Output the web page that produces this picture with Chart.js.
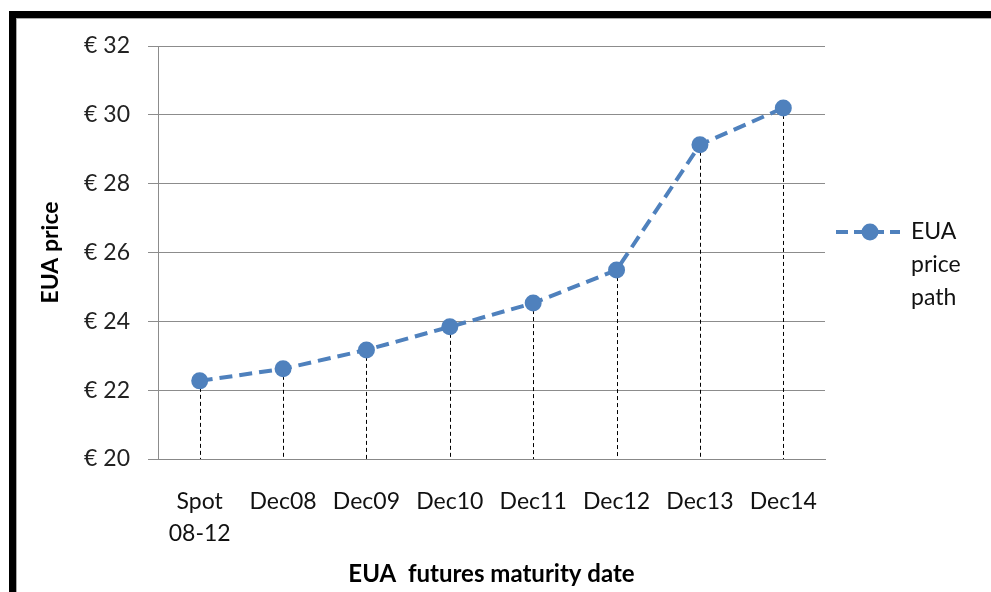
<!DOCTYPE html>
<html>
<head>
<meta charset="utf-8">
<script src="https://cdn.jsdelivr.net/npm/chart.js@4"></script>
<style>
  html, body { margin: 0; padding: 0; background: #fff; }
  #wrap { position: relative; width: 991px; height: 592px; overflow: hidden; }
  #frame {
    position: absolute; left: 9px; top: 11px; width: 1000px; height: 600px;
    border-left: 7px solid #000; border-top: 7px solid #000;
    box-shadow: inset 1px 1px 0 #aaa;
  }
  #myChart { position: absolute; left: 0; top: 0; }
</style>
</head>
<body>
<div id="wrap">
  <div id="frame"></div>
  <canvas id="myChart" width="991" height="592"></canvas>
</div>
<script>
const categories = [['Spot', '08-12'], 'Dec08', 'Dec09', 'Dec10', 'Dec11', 'Dec12', 'Dec13', 'Dec14'];
const prices = [22.27, 22.62, 23.17, 23.84, 24.53, 25.49, 29.13, 30.2];
const seriesName = ['EUA', 'price', 'path'];
const yMin = 20;
const yMax = 32;
const yStep = 2;

const blue = '#4f81bd';
const fontFamily = 'Lato, "DejaVu Sans", sans-serif';

// black dashed drop lines from every point to the axis
const dropLines = {
  id: 'dropLines',
  beforeDatasetsDraw(chart) {
    const ctx = chart.ctx;
    const meta = chart.getDatasetMeta(0);
    const bottom = chart.chartArea.bottom;
    ctx.save();
    ctx.strokeStyle = '#000';
    ctx.lineWidth = 1;
    ctx.setLineDash([4, 3]);
    meta.data.forEach(pt => {
      ctx.beginPath();
      ctx.moveTo(Math.round(pt.x) + 0.5, pt.y);
      ctx.lineTo(Math.round(pt.x) + 0.5, bottom);
      ctx.stroke();
    });
    ctx.restore();
  }
};

// legend on the right with the wrapped series name
const sideLegend = {
  id: 'sideLegend',
  afterDraw(chart) {
    const ctx = chart.ctx;
    const area = chart.chartArea;
    const x0 = area.right + 11;
    const y0 = 232;
    ctx.save();
    ctx.strokeStyle = blue;
    ctx.lineWidth = 4;
    ctx.setLineDash([12, 6]);
    ctx.beginPath();
    ctx.moveTo(x0, y0);
    ctx.lineTo(x0 + 64, y0);
    ctx.stroke();
    ctx.setLineDash([]);
    ctx.fillStyle = blue;
    ctx.beginPath();
    ctx.arc(x0 + 34, y0, 8.5, 0, Math.PI * 2);
    ctx.fill();
    ctx.fillStyle = '#111';
    ctx.font = '23px ' + fontFamily;
    ctx.textBaseline = 'middle';
    seriesName.forEach((t, i) => ctx.fillText(t, x0 + 75, y0 + i * 33));
    ctx.restore();
  }
};

const ctx = document.getElementById('myChart').getContext('2d');
const myChart = new Chart(ctx, {
  type: 'line',
  data: {
    labels: categories,
    datasets: [{
      label: seriesName.join(' '),
      data: prices,
      borderColor: blue,
      backgroundColor: blue,
      borderWidth: 4,
      borderDash: [13, 7],
      pointRadius: 8.5,
      pointBorderWidth: 0,
      tension: 0,
    }]
  },
  options: {
    responsive: false,
    animation: false,
    layout: { padding: { left: 10, right: 166, top: 46, bottom: 0 } },
    plugins: {
      legend: { display: false },
      tooltip: { enabled: false }
    },
    scales: {
      x: {
        offset: true,
        grid: { display: false, drawTicks: false },
        border: { display: true, color: '#888', width: 1 },
        ticks: {
          color: '#111',
          padding: 26,
          maxRotation: 0,
          font: { family: fontFamily, size: 23, lineHeight: 1.4 }
        },
        title: {
          display: true,
          text: 'EUA  futures maturity date',
          color: '#000',
          padding: { top: 0, bottom: 3 },
          font: { family: fontFamily, size: 24, weight: 'bold' }
        },
        afterFit(scale) { scale.height = 133; }
      },
      y: {
        min: yMin,
        max: yMax,
        grid: { color: '#8c8c8c', lineWidth: 1, drawTicks: true, tickLength: 10, tickColor: '#8c8c8c' },
        border: { display: true, color: '#8c8c8c', width: 1 },
        ticks: {
          stepSize: yStep,
          color: '#222',
          padding: 18,
          font: { family: fontFamily, size: 23 },
          callback: v => '€ ' + v
        },
        title: {
          display: true,
          text: 'EUA price',
          color: '#000',
          padding: { top: 27, bottom: 0 },
          font: { family: fontFamily, size: 23, weight: 'bold' }
        },
        afterFit(scale) { scale.width = 148; }
      }
    }
  },
  plugins: [dropLines, sideLegend]
});
</script>
</body>
</html>
